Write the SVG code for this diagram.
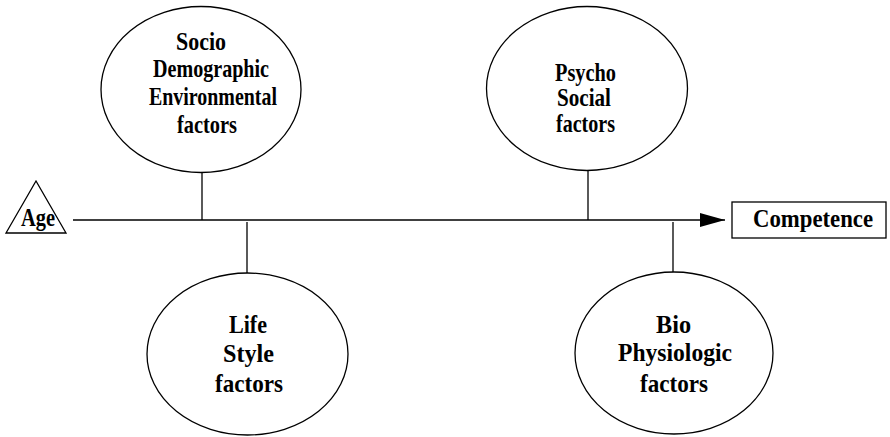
<svg xmlns="http://www.w3.org/2000/svg" width="890" height="437" viewBox="0 0 890 437">
  <style>
    .shape { fill: #fff; stroke: #000; stroke-width: 1.3; }
    .wire { fill: none; stroke: #000; stroke-width: 1.3; }
    .label { font-family: "Liberation Serif", "Times New Roman", serif; font-weight: bold; font-size: 25px; fill: #000; }
    .big { font-size: 26px; }
  </style>
  <defs>
    <marker id="arrow" viewBox="0 0 25 14" refX="25" refY="7" markerWidth="25" markerHeight="14" markerUnits="userSpaceOnUse" orient="auto">
      <path d="M0,0 L25,7 L0,14 Z" fill="#000"/>
    </marker>
  </defs>
  <rect width="890" height="437" fill="#fff"/>

  <!-- connectors -->
  <g id="connectors">
    <line class="wire" x1="73" y1="220" x2="725" y2="220" marker-end="url(#arrow)"/>
    <line class="wire" x1="202" y1="172" x2="202" y2="220"/>
    <line class="wire" x1="588" y1="170" x2="588" y2="220"/>
    <line class="wire" x1="247" y1="222" x2="247" y2="273"/>
    <line class="wire" x1="673" y1="222" x2="673" y2="272"/>
  </g>

  <!-- start: Age -->
  <g id="age">
    <polygon class="shape" points="36,181 6,233 66,233"/>
    <text class="label" x="21" y="226" textLength="34" lengthAdjust="spacingAndGlyphs">Age</text>
  </g>

  <!-- end: Competence -->
  <g id="competence">
    <rect class="shape" x="732" y="202" width="154" height="36"/>
    <text class="label" x="753" y="227" textLength="120" lengthAdjust="spacingAndGlyphs">Competence</text>
  </g>

  <!-- factor groups above the axis -->
  <g id="socio">
    <ellipse class="shape" cx="201" cy="89.5" rx="100" ry="83"/>
    <text class="label" x="176" y="50" textLength="50" lengthAdjust="spacingAndGlyphs">Socio</text>
    <text class="label" x="153" y="77" textLength="116" lengthAdjust="spacingAndGlyphs">Demographic</text>
    <text class="label" x="149" y="105" textLength="128" lengthAdjust="spacingAndGlyphs">Environmental</text>
    <text class="label" x="177" y="133" textLength="60" lengthAdjust="spacingAndGlyphs">factors</text>
  </g>

  <g id="psycho">
    <ellipse class="shape" cx="587" cy="88.5" rx="100.5" ry="82"/>
    <text class="label" x="555" y="81" textLength="61" lengthAdjust="spacingAndGlyphs">Psycho</text>
    <text class="label" x="557" y="106" textLength="54" lengthAdjust="spacingAndGlyphs">Social</text>
    <text class="label" x="556" y="132" textLength="59" lengthAdjust="spacingAndGlyphs">factors</text>
  </g>

  <!-- factor groups below the axis -->
  <g id="lifestyle">
    <ellipse class="shape" cx="247.5" cy="354" rx="100.5" ry="81"/>
    <text class="label big" x="229" y="333" textLength="38" lengthAdjust="spacingAndGlyphs">Life</text>
    <text class="label big" x="223" y="362" textLength="51" lengthAdjust="spacingAndGlyphs">Style</text>
    <text class="label big" x="215" y="392" textLength="68" lengthAdjust="spacingAndGlyphs">factors</text>
  </g>

  <g id="bio">
    <ellipse class="shape" cx="674" cy="353" rx="99" ry="81"/>
    <text class="label big" x="656" y="333" textLength="35" lengthAdjust="spacingAndGlyphs">Bio</text>
    <text class="label big" x="618" y="361" textLength="114" lengthAdjust="spacingAndGlyphs">Physiologic</text>
    <text class="label big" x="640" y="392" textLength="68" lengthAdjust="spacingAndGlyphs">factors</text>
  </g>
</svg>
